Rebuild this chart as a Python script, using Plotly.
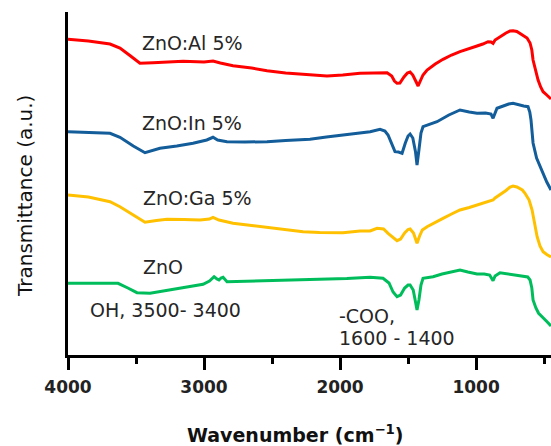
import plotly.graph_objects as go

# ---- data, transmittance in arbitrary stacked units ----
al_wn = [4000,3850,3691,3618,3540,3471,3375,3250,3154,3000,2934,2880,2787,2650,2537,2400,2294,2200,2096,1980,
         1853,1750,1654,1620,1600,1581,1560,1530,1505,1485,1465,1440,1426,1410,1390,1360,1300,1243,1180,1118,
         1050,993,950,912,890,875,860,824,780,750,728,700,654,625,603,590,581,565,544,525,507,480,456,449]
al_t = [315.7,314,311,307,299,291.7,292.3,293,293.7,293,294,292,289.3,287,284.3,282,281,279.5,279,280,
        281.7,282,282.3,279,274,271.7,272,278,282,283,280,273,269,274,280,285,291,295.7,300,303.3,
        306,309,311,313.3,313,311.7,315,318.3,322,324,324.3,323.5,320,317,312,305,295,285,275,268,263.3,260,256.7,256]

in_wn = [4000,3850,3691,3618,3520,3434,3324,3200,3081,2980,2934,2900,2831,2700,2537,2400,2221,2100,1978,1853,
         1779,1706,1670,1647,1620,1596,1570,1544,1520,1500,1485,1465,1445,1434,1420,1405,1390,1340,1287,1200,
         1118,1050,993,930,890,875,860,846,800,760,728,690,650,618,605,596,581,555,529,507,480,449]
in_t = [223.3,222.5,221.7,217.7,209,202.3,206.7,209,211.7,215,217.7,215,213.3,213,213.3,214.5,215.7,218,220,221.7,
        223.3,225.7,224,220,212,203.3,203,201.7,212,219,221,217,203,190,205,222,228.3,231,233.3,240,
        245,243,241.7,242,241,236.7,243,246.7,249,251,251.7,250,249,248.3,243,235,212,197,188.3,182,173,165]

ga_wn = [4000,3850,3691,3618,3520,3434,3350,3272,3150,3029,2960,2934,2890,2787,2650,2537,2400,2272,2150,1978,
         1853,1779,1728,1680,1647,1610,1581,1555,1525,1500,1485,1460,1445,1434,1415,1395,1360,1300,1243,1180,
         1118,1050,993,930,890,875,860,824,780,750,728,700,660,640,610,588,570,551,530,507,480,456,449]
ga_t = [160,158,153.3,148.3,140,132.7,134.5,135.7,135.5,135,136,137.7,135,131.7,129.5,127.7,125,123.3,122.5,122.3,
        124,124,126.7,126,121.7,117,114.3,116,122,125.5,126,122,115,111.7,119,125,128.3,133,136.7,141,
        145,147.5,150,153,154,155,157,160,164.5,168,169,168,165,161.7,155,145,130,118.3,109,103.3,100.5,98.3,98]

zn_wn = [4000,3800,3632,3560,3493,3397,3300,3199,3100,3007,2960,2926,2905,2890,2875,2860,2831,2700,2463,2300,
         2096,1950,1779,1684,1640,1610,1581,1555,1525,1500,1485,1462,1445,1434,1420,1405,1390,1316,1250,1180,
         1118,1060,993,940,900,875,860,824,760,700,654,620,603,590,581,560,540,520,500,478,449]
zn_t = [71.7,71.7,71.7,67,62.3,61.7,64,66.7,69,70.7,74,78.3,76,75,77,77.7,73.3,73.7,74.3,75,
        75.7,76.5,77.7,76.7,72,63,58.3,60,67,70,70,65,53,45,55,70,76.7,78.3,81,83,
        85,83,81,81,80,74.3,79,82.3,81,80,79,78,75,67,55,47,41.7,39,37,33.3,29]

series_names = ["ZnO:Al 5%", "ZnO:In 5%", "ZnO:Ga 5%", "ZnO"]
series_colors = ["#FF0000", "#135D9A", "#FFC000", "#00BD5C"]
major_ticks = [4000, 3000, 2000, 1000]
minor_ticks = [3500, 2500, 1500, 500]

# ---- figure ----
W, H = 551, 446
L, R, T, B = 68, 0, 12, 91
PW, PH = W - L - R, H - T - B

def px(x, y):
    return (x - L) / PW, (H - B - y) / PH

fig = go.Figure()
for wn, t, name, col in zip([al_wn, in_wn, ga_wn, zn_wn], [al_t, in_t, ga_t, zn_t], series_names, series_colors):
    fig.add_trace(go.Scatter(x=wn, y=t, mode="lines", name=name,
                             line=dict(color=col, width=3), showlegend=False))

lab_font = dict(family="DejaVu Sans", size=19, color="#262626")
labels = [("ZnO:Al 5%", 140, 43), ("ZnO:In 5%", 140, 123), ("ZnO:Ga 5%", 141, 198),
          ("ZnO", 141, 267), ("OH, 3500- 3400", 88, 310), ("-COO,", 337, 316), ("1600 - 1400", 337, 338)]
for txt, x, y in labels:
    xp, yp = px(x, y)
    fig.add_annotation(text=txt, x=xp, y=yp, xref="paper", yref="paper", xanchor="left",
                       yanchor="middle", showarrow=False, font=lab_font)

xp, yp = px(295, 434)
fig.add_annotation(text="Wavenumber (cm<sup>\u22121</sup>)", x=xp, y=yp, xref="paper", yref="paper",
                   xanchor="center", yanchor="middle", showarrow=False,
                   font=dict(family="DejaVu Sans", size=19, color="#111111", weight="bold"))
xp, yp = px(25, 196)
fig.add_annotation(text="Transmittance (a.u.)", x=xp, y=yp, xref="paper", yref="paper",
                   xanchor="center", yanchor="middle", showarrow=False, textangle=-90,
                   font=dict(family="DejaVu Sans", size=20, color="#111111"))

fig.update_layout(
    width=W, height=H, margin=dict(l=L, r=R, t=T, b=B),
    paper_bgcolor="white", plot_bgcolor="white",
    xaxis=dict(range=[4000, 449], showgrid=False, zeroline=False, showline=True, linecolor="black",
               linewidth=3, ticks="outside", ticklen=12, tickwidth=3, tickcolor="black",
               ticklabelstandoff=3,
               tickvals=major_ticks, ticktext=[str(v) for v in major_ticks],
               tickfont=dict(family="DejaVu Sans", size=17, color="#222222", weight="bold"),
               minor=dict(tickvals=minor_ticks, ticks="outside", ticklen=6, tickwidth=3, tickcolor="black")),
    yaxis=dict(range=[0, 343], showgrid=False, zeroline=False, showline=True, linecolor="black",
               linewidth=3, showticklabels=False, ticks=""),
)

fig.write_html("out.html", config={"displayModeBar": False},
               post_script="document.body.style.margin='0';document.body.style.overflow='hidden';")
